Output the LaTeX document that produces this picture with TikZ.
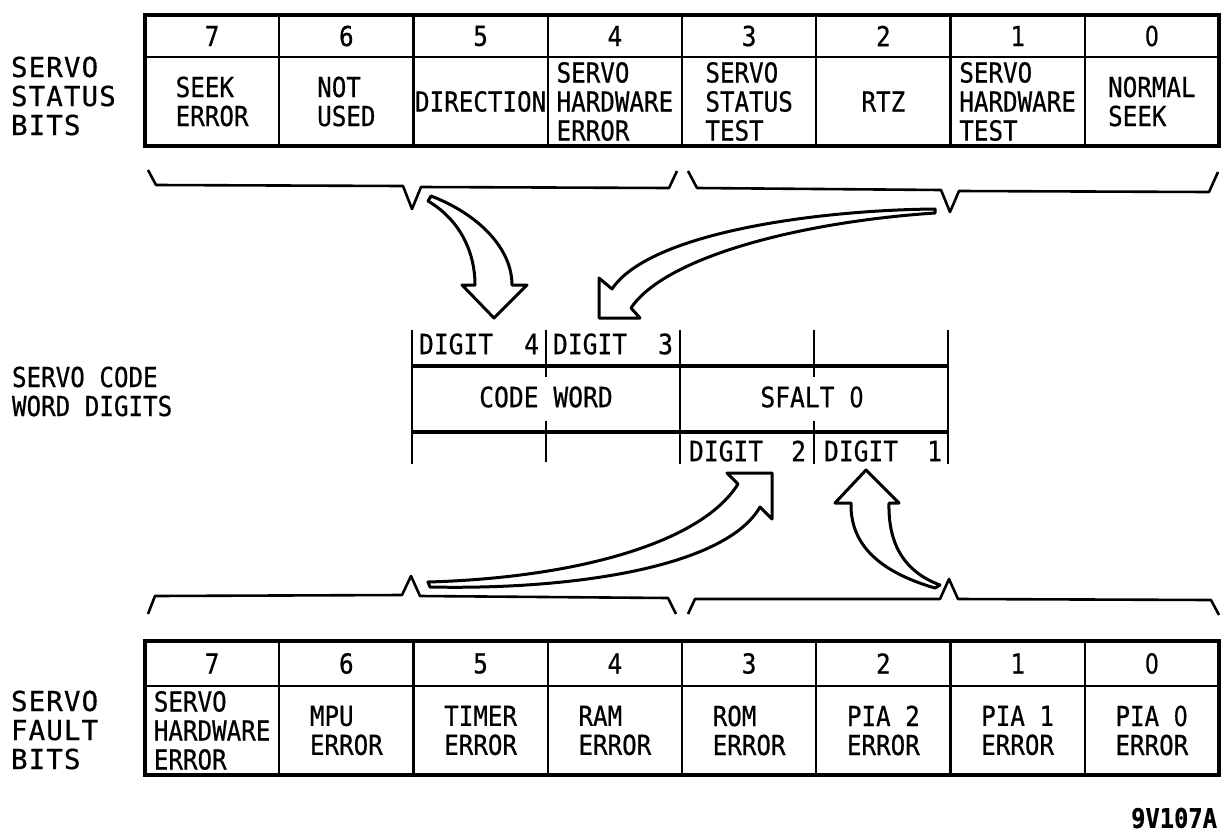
\documentclass[tikz,border=0pt]{standalone}
\usepackage{fontspec}
\newfontfamily\cellfont[FakeStretch=0.88,FakeBold=0.6]{DejaVu Sans Mono}
\newfontfamily\lblfont[LetterSpace=4,FakeBold=0.6]{DejaVu Sans Mono}
\newfontfamily\zfont[FakeStretch=0.8,FakeBold=0.6]{DejaVu Sans}
\newcommand\zr{{\zfont 0}}
\begin{document}
\begin{tikzpicture}[x=1pt,y=-1pt,
  every node/.style={inner sep=0pt, outer sep=0pt},
  cell/.style={draw, line width=2.4pt, minimum width=134.25pt},
  numcell/.style={cell, font=\cellfont\fontsize{27.5}{29}\selectfont},
  bodycell/.style={cell, font=\cellfont\fontsize{27.5}{29}\selectfont, align=left},
  frame/.style={draw, line width=4pt},
  sidelbl/.style={font=\lblfont\fontsize{27.5}{29}\selectfont, align=left, anchor=west},
  midlbl/.style={font=\cellfont\fontsize{27.5}{29}\selectfont, align=left, anchor=west},
  brace/.style={draw, line width=2.6pt, line join=round},
  bigarrow/.style={draw, fill=white, line width=3pt, line join=round},
  tick/.style={draw, line width=2.4pt},
  boxline/.style={draw, line width=3.2pt},
  diglbl/.style={font=\cellfont\fontsize{28}{28}\selectfont},
  idlbl/.style={font=\cellfont\bfseries\fontsize{27}{27}\selectfont},
]
\useasboundingbox (0,0) rectangle (1224,833);

% ---------- top table: servo status bits ----------
\foreach \b/\n/\t [count=\k from 0] in {7/7/{SEEK\\ERROR},6/6/{NOT\\USED},5/5/{DIRECTION},4/4/{SERVO\\HARDWARE\\ERROR},3/3/{SERVO\\STATUS\\TEST},2/2/{RTZ},1/1/{SERVO\\HARDWARE\\TEST},0/\zr/{NORMAL\\SEEK}}{
  \node[numcell, minimum height=42pt] (sn\b) at ({212.125+134.25*\k},36) {\n};
  \node[bodycell, minimum height=89pt] (sb\b) at ({212.125+134.25*\k},101.5) {\t};
}
\draw[frame] (sn7.north west) rectangle (sb0.south east);
\node[sidelbl] (lstat) at (11,96) {SERVO\\STATUS\\BITS};

% ---------- bottom table: servo fault bits ----------
\foreach \b/\n/\t [count=\k from 0] in {7/7/{SERVO\\HARDWARE\\ERROR},6/6/{MPU\\ERROR},5/5/{TIMER\\ERROR},4/4/{RAM\\ERROR},3/3/{ROM\\ERROR},2/2/{PIA 2\\ERROR},1/1/{PIA 1\\ERROR},0/\zr/{PIA \zr\\ERROR}}{
  \node[numcell, minimum height=45pt] (fn\b) at ({212.125+134.25*\k},663.5) {\n};
  \node[bodycell, minimum height=89pt] (fb\b) at ({212.125+134.25*\k},730.5) {\t};
}
\draw[frame] (fn7.north west) rectangle (fb0.south east);
\node[sidelbl] (lfault) at (11,730) {SERVO\\FAULT\\BITS};

% ---------- code word ----------
\node[midlbl] (lcode) at (12,391.5) {SERVO CODE\\WORD DIGITS};
\draw[boxline] (412,366) -- (948,366);
\draw[boxline] (412,432) -- (948,432);
\draw[tick] (412,330) -- (412,464);
\draw[tick] (680,330) -- (680,464);
\draw[tick] (948,330) -- (948,464);
\draw[tick] (546,330) -- (546,377);
\draw[tick] (546,421) -- (546,462);
\draw[tick] (814,330) -- (814,377);
\draw[tick] (814,421) -- (814,464);
\node[diglbl] (cw) at (546,397) {CODE WORD};
\node[diglbl] (sf) at (812,397) {SFALT \zr};
\node[diglbl, anchor=west] (d4) at (419,344) {DIGIT};
\node[diglbl, anchor=east] (d4n) at (539,344) {4};
\node[diglbl, anchor=west] (d3) at (553,344) {DIGIT};
\node[diglbl, anchor=east] (d3n) at (673,344) {3};
\node[diglbl, anchor=west] (d2) at (689,451) {DIGIT};
\node[diglbl, anchor=east] (d2n) at (806,451) {2};
\node[diglbl, anchor=west] (d1) at (824,451) {DIGIT};
\node[diglbl, anchor=east] (d1n) at (942,451) {1};

% ---------- braces ----------
\draw[brace] (148,170) -- (156,185) -- (403,186) -- (412,209) -- (421,187) -- (669,188) -- (677,171);
\draw[brace] (688,171) -- (697,188) -- (941,190) -- (950,212) -- (959,191) -- (1209,192) -- (1218,172);
\draw[brace] (148,614) -- (155,596) -- (402,595) -- (411,576) -- (420,596) -- (668,598) -- (676,614);
\draw[brace] (688,614) -- (695,599) -- (940,599) -- (949,579) -- (958,599) -- (1211,600) -- (1219,615);

% ---------- hollow curved arrows ----------
\draw[bigarrow] (431,196) .. controls (478,214) and (512,248) .. (512,285) -- (527,285) -- (494,318) -- (462,285) -- (475,285) .. controls (475,252) and (460,220) .. (428,201) -- cycle;
\draw[bigarrow] (935,209) .. controls (820,210) and (650,232) .. (612,289) -- (599,278) -- (599,318) -- (640,318) -- (631,308) .. controls (665,257) and (800,222) .. (935,213) -- cycle;
\draw[bigarrow] (428,582) .. controls (570,578) and (700,545) .. (738,484) -- (727,473) -- (772,473) -- (772,519) -- (760,507) .. controls (725,568) and (570,590) .. (430,587) -- cycle;
\draw[bigarrow] (935,588) .. controls (880,572) and (850,545) .. (851,503) -- (835,503) -- (866,470) -- (899,503) -- (889,503) .. controls (888,545) and (905,572) .. (940,585) -- cycle;

% ---------- figure id ----------
\node[idlbl, anchor=east] (fig) at (1217,818) {9V107A};
\end{tikzpicture}
\end{document}
